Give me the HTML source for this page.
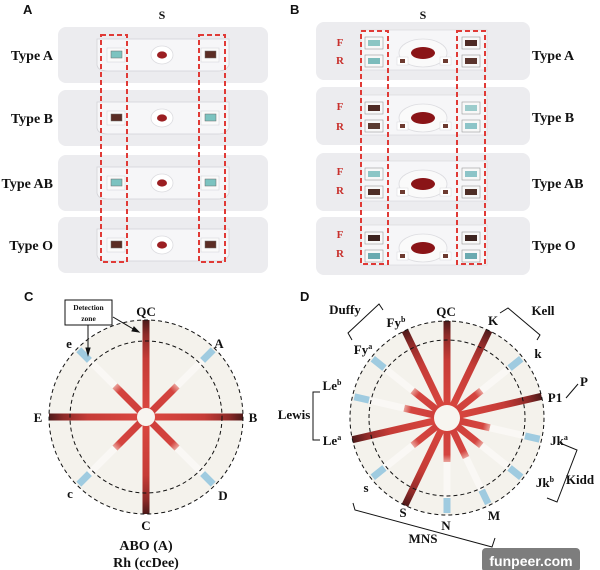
<!DOCTYPE html>
<html><head><meta charset="utf-8"><style>
html,body{margin:0;padding:0;background:#fff;}
svg{display:block;}
.t{font-family:"Liberation Serif",serif;font-weight:bold;fill:#111;}
.p{font-family:"Liberation Sans",sans-serif;font-weight:bold;fill:#111;font-size:13px;}
.r{font-family:"Liberation Serif",serif;font-weight:bold;fill:#c8302c;font-size:11px;}
</style></head><body>
<svg width="600" height="570" viewBox="0 0 600 570" xmlns="http://www.w3.org/2000/svg">
<defs>
<linearGradient id="gp" gradientUnits="userSpaceOnUse" x1="0" y1="0" x2="97" y2="0">
<stop offset="0.08" stop-color="#d9463f"/><stop offset="0.6" stop-color="#c63c37"/><stop offset="0.85" stop-color="#8e2a28"/><stop offset="1" stop-color="#4e1a1a"/>
</linearGradient>
<linearGradient id="gr" x1="0" y1="0" x2="1" y2="0">
<stop offset="0" stop-color="#cf3f3b"/><stop offset="0.8" stop-color="#d4443f"/><stop offset="1" stop-color="#eaa49c"/>
</linearGradient>
<g id="pos"><rect x="8" y="-3.5" width="89" height="7" fill="url(#gp)"/></g>
<g id="neg">
<rect x="8" y="-3.5" width="36" height="7" fill="url(#gr)"/>
<rect x="44" y="-3.5" width="36" height="7" fill="#faf8f5"/>
<rect x="80" y="-3.5" width="15" height="7" fill="#9fcbe0"/>
</g>
<g id="cardA">
<rect x="0" y="0" width="210" height="56" rx="8" fill="#ececef"/>
<path d="M39 12 H171 V38 Q168 44 160 44 H50 Q40 44 39 38 Z" fill="#f6f6f8" stroke="#d2d2d6" stroke-width="0.8"/>
<ellipse cx="104" cy="28" rx="11" ry="9" fill="#fff" stroke="#dcdce0" stroke-width="0.8"/>
<ellipse cx="104" cy="28" rx="5" ry="3.6" fill="#9b1f22"/>
<rect x="49" y="21" width="18" height="14" fill="#fafafa" stroke="#d8d8dc" stroke-width="0.6"/>
<rect x="143" y="21" width="18" height="14" fill="#fafafa" stroke="#d8d8dc" stroke-width="0.6"/>
</g>
<g id="cardB">
<rect x="0" y="0" width="214" height="58" rx="8" fill="#ececef"/>
<rect x="45" y="8" width="126" height="40" fill="#f6f6f8" stroke="#d6d6da" stroke-width="0.6"/>
<ellipse cx="107" cy="31" rx="24" ry="14" fill="#fafafa" stroke="#dcdce0" stroke-width="0.8"/>
<ellipse cx="107" cy="31" rx="12" ry="6" fill="#8a1417"/>
<rect x="81" y="35" width="11" height="8" fill="#fff" stroke="#d8d8dc" stroke-width="0.5"/>
<rect x="84" y="37" width="5" height="4" fill="#6d3a30"/>
<rect x="124" y="35" width="11" height="8" fill="#fff" stroke="#d8d8dc" stroke-width="0.5"/>
<rect x="127" y="37" width="5" height="4" fill="#6d3a30"/>
</g>
</defs>

<!-- Panel A -->
<text class="p" x="23" y="14">A</text>
<text class="t" x="162" y="19" font-size="12" text-anchor="middle">S</text>
<use href="#cardA" x="58" y="27"/>
<use href="#cardA" x="58" y="90"/>
<use href="#cardA" x="58" y="155"/>
<use href="#cardA" x="58" y="217"/>
<g stroke="#6a6a6a" stroke-width="0.5">
<rect x="111" y="51" width="11" height="7" fill="#7cc3c0"/><rect x="205" y="51" width="11" height="7" fill="#5a2c24"/>
<rect x="111" y="114" width="11" height="7" fill="#5a2c24"/><rect x="205" y="114" width="11" height="7" fill="#7cc3c0"/>
<rect x="111" y="179" width="11" height="7" fill="#7cc3c0"/><rect x="205" y="179" width="11" height="7" fill="#7cc3c0"/>
<rect x="111" y="241" width="11" height="7" fill="#5a2c24"/><rect x="205" y="241" width="11" height="7" fill="#5a2c24"/>
</g>
<g class="t" font-size="14" text-anchor="end">
<text x="53" y="60">Type A</text><text x="53" y="123">Type B</text><text x="53" y="188">Type AB</text><text x="53" y="250">Type O</text>
</g>
<g fill="none" stroke="#e03a36" stroke-width="2" stroke-dasharray="5,3">
<rect x="101" y="35" width="26" height="227"/><rect x="199" y="35" width="26" height="227"/>
</g>

<!-- Panel B -->
<text class="p" x="290" y="14">B</text>
<text class="t" x="423" y="19" font-size="12" text-anchor="middle">S</text>
<use href="#cardB" x="316" y="22"/>
<use href="#cardB" x="316" y="87"/>
<use href="#cardB" x="316" y="153"/>
<use href="#cardB" x="316" y="217"/>
<g stroke="#9a9a9a" stroke-width="0.6" fill="#f8f8f8">
<rect x="365" y="37" width="18" height="12"/><rect x="365" y="55" width="18" height="12"/>
<rect x="462" y="37" width="18" height="12"/><rect x="462" y="55" width="18" height="12"/>
<rect x="365" y="102" width="18" height="12"/><rect x="365" y="120" width="18" height="12"/>
<rect x="462" y="102" width="18" height="12"/><rect x="462" y="120" width="18" height="12"/>
<rect x="365" y="168" width="18" height="12"/><rect x="365" y="186" width="18" height="12"/>
<rect x="462" y="168" width="18" height="12"/><rect x="462" y="186" width="18" height="12"/>
<rect x="365" y="232" width="18" height="12"/><rect x="365" y="250" width="18" height="12"/>
<rect x="462" y="232" width="18" height="12"/><rect x="462" y="250" width="18" height="12"/>
</g>
<g>
<rect x="368" y="40" width="12" height="6" fill="#8cc6c4"/><rect x="368" y="58" width="12" height="6" fill="#7cbcbc"/>
<rect x="465" y="40" width="12" height="6" fill="#4e2a24"/><rect x="465" y="58" width="12" height="6" fill="#5a342c"/>
<rect x="368" y="105" width="12" height="6" fill="#4e2a24"/><rect x="368" y="123" width="12" height="6" fill="#5a3a30"/>
<rect x="465" y="105" width="12" height="6" fill="#9ccccc"/><rect x="465" y="123" width="12" height="6" fill="#8cc4c8"/>
<rect x="368" y="171" width="12" height="6" fill="#8cc6c6"/><rect x="368" y="189" width="12" height="6" fill="#4e2e26"/>
<rect x="465" y="171" width="12" height="6" fill="#8cc4c8"/><rect x="465" y="189" width="12" height="6" fill="#4e2e26"/>
<rect x="368" y="235" width="12" height="6" fill="#3e2420"/><rect x="368" y="253" width="12" height="6" fill="#6aaab0"/>
<rect x="465" y="235" width="12" height="6" fill="#3e2420"/><rect x="465" y="253" width="12" height="6" fill="#6aaab0"/>
</g>
<g class="r" text-anchor="middle">
<text x="340" y="46">F</text><text x="340" y="64">R</text>
<text x="340" y="110">F</text><text x="340" y="130">R</text>
<text x="340" y="175">F</text><text x="340" y="194">R</text>
<text x="340" y="238">F</text><text x="340" y="257">R</text>
</g>
<g class="t" font-size="14">
<text x="532" y="60">Type A</text><text x="532" y="122">Type B</text><text x="532" y="188">Type AB</text><text x="532" y="250">Type O</text>
</g>
<g fill="none" stroke="#e03a36" stroke-width="2" stroke-dasharray="5,3">
<rect x="361" y="31" width="27" height="233"/><rect x="457" y="31" width="28" height="233"/>
</g>

<!-- Panel C -->
<text class="p" x="24" y="301">C</text>
<circle cx="146" cy="417" r="97" fill="#f4f2ec"/>
<g transform="translate(146,417)">
<use href="#pos" transform="rotate(-90)"/><use href="#pos" transform="rotate(90)"/>
<use href="#pos"/><use href="#pos" transform="rotate(180)"/>
<use href="#neg" transform="rotate(-45)"/><use href="#neg" transform="rotate(-135)"/>
<use href="#neg" transform="rotate(45)"/><use href="#neg" transform="rotate(135)"/>
<circle r="9" fill="#f7f5f0"/>
<circle r="97" fill="none" stroke="#111" stroke-width="1" stroke-dasharray="4,3"/>
<circle r="76" fill="none" stroke="#111" stroke-width="1" stroke-dasharray="4,3"/>
</g>
<g class="t" font-size="13" text-anchor="middle">
<text x="146" y="316">QC</text><text x="219" y="348">A</text><text x="253" y="422">B</text>
<text x="223" y="500">D</text><text x="146" y="530">C</text><text x="70" y="498">c</text>
<text x="38" y="422">E</text><text x="69" y="348">e</text>
<text x="146" y="550" font-size="14">ABO (A)</text><text x="146" y="567" font-size="14">Rh (ccDee)</text>
</g>
<rect x="65" y="300" width="47" height="25" fill="#fff" stroke="#111" stroke-width="1"/>
<text class="t" x="88.5" y="310" font-size="7.5" text-anchor="middle">Detection</text>
<text class="t" x="88.5" y="321" font-size="7.5" text-anchor="middle">zone</text>
<g stroke="#111" stroke-width="1" fill="#111">
<line x1="113" y1="317" x2="135" y2="330"/><path d="M139 332 L132 331 L134 327 Z"/>
<line x1="88" y1="325" x2="88" y2="350"/><path d="M88 355 L86 348 L90 348 Z"/>
</g>

<!-- Panel D -->
<text class="p" x="300" y="301">D</text>
<circle cx="447" cy="418" r="97" fill="#f4f2ec"/>
<g transform="translate(447,418)">
<use href="#pos" transform="rotate(-90)"/>
<use href="#pos" transform="rotate(-64.3)"/>
<use href="#neg" transform="rotate(-38.6)"/>
<use href="#pos" transform="rotate(-12.9)"/>
<use href="#neg" transform="rotate(12.9)"/>
<use href="#neg" transform="rotate(38.6)"/>
<use href="#neg" transform="rotate(64.3)"/>
<use href="#neg" transform="rotate(90)"/>
<use href="#pos" transform="rotate(115.7)"/>
<use href="#neg" transform="rotate(141.4)"/>
<use href="#pos" transform="rotate(167.1)"/>
<use href="#neg" transform="rotate(192.9)"/>
<use href="#neg" transform="rotate(218.6)"/>
<use href="#pos" transform="rotate(244.3)"/>
<circle r="13" fill="#f7f5f0"/>
<circle r="97" fill="none" stroke="#111" stroke-width="1" stroke-dasharray="4,3"/>
<circle r="78" fill="none" stroke="#111" stroke-width="1" stroke-dasharray="4,3"/>
</g>
<g class="t" font-size="13" text-anchor="middle">
<text x="446" y="316">QC</text><text x="493" y="325">K</text><text x="396" y="327">Fy<tspan font-size="8" dy="-5">b</tspan></text>
<text x="363" y="354">Fy<tspan font-size="8" dy="-5">a</tspan></text><text x="538" y="358">k</text>
<text x="332" y="390">Le<tspan font-size="8" dy="-5">b</tspan></text><text x="555" y="402">P1</text>
<text x="332" y="445">Le<tspan font-size="8" dy="-5">a</tspan></text><text x="559" y="445">Jk<tspan font-size="8" dy="-5">a</tspan></text>
<text x="545" y="487">Jk<tspan font-size="8" dy="-5">b</tspan></text><text x="366" y="492">s</text>
<text x="494" y="520">M</text><text x="403" y="517">S</text><text x="446" y="530">N</text>
<text x="423" y="543">MNS</text><text x="345" y="314">Duffy</text><text x="543" y="315">Kell</text>
<text x="294" y="419">Lewis</text><text x="584" y="386">P</text><text x="580" y="484">Kidd</text>
</g>
<g fill="none" stroke="#111" stroke-width="1">
<polyline points="352,340 348,333 379,304 383,310"/>
<polyline points="500,313 508,308 540,335 537,340"/>
<polyline points="320,392 313,392 313,440 320,440"/>
<line x1="566" y1="398" x2="578" y2="384"/>
<polyline points="560,443 577,450 557,502 547,498"/>
<polyline points="353,503 355,510 492,547 495,538"/>
</g>

<rect x="482" y="548" width="98" height="24" rx="4" fill="#7d7d7d"/>
<text x="531" y="566" font-family="Liberation Sans, sans-serif" font-weight="bold" font-size="14" fill="#fff" text-anchor="middle">funpeer.com</text>
</svg>
</body></html>
